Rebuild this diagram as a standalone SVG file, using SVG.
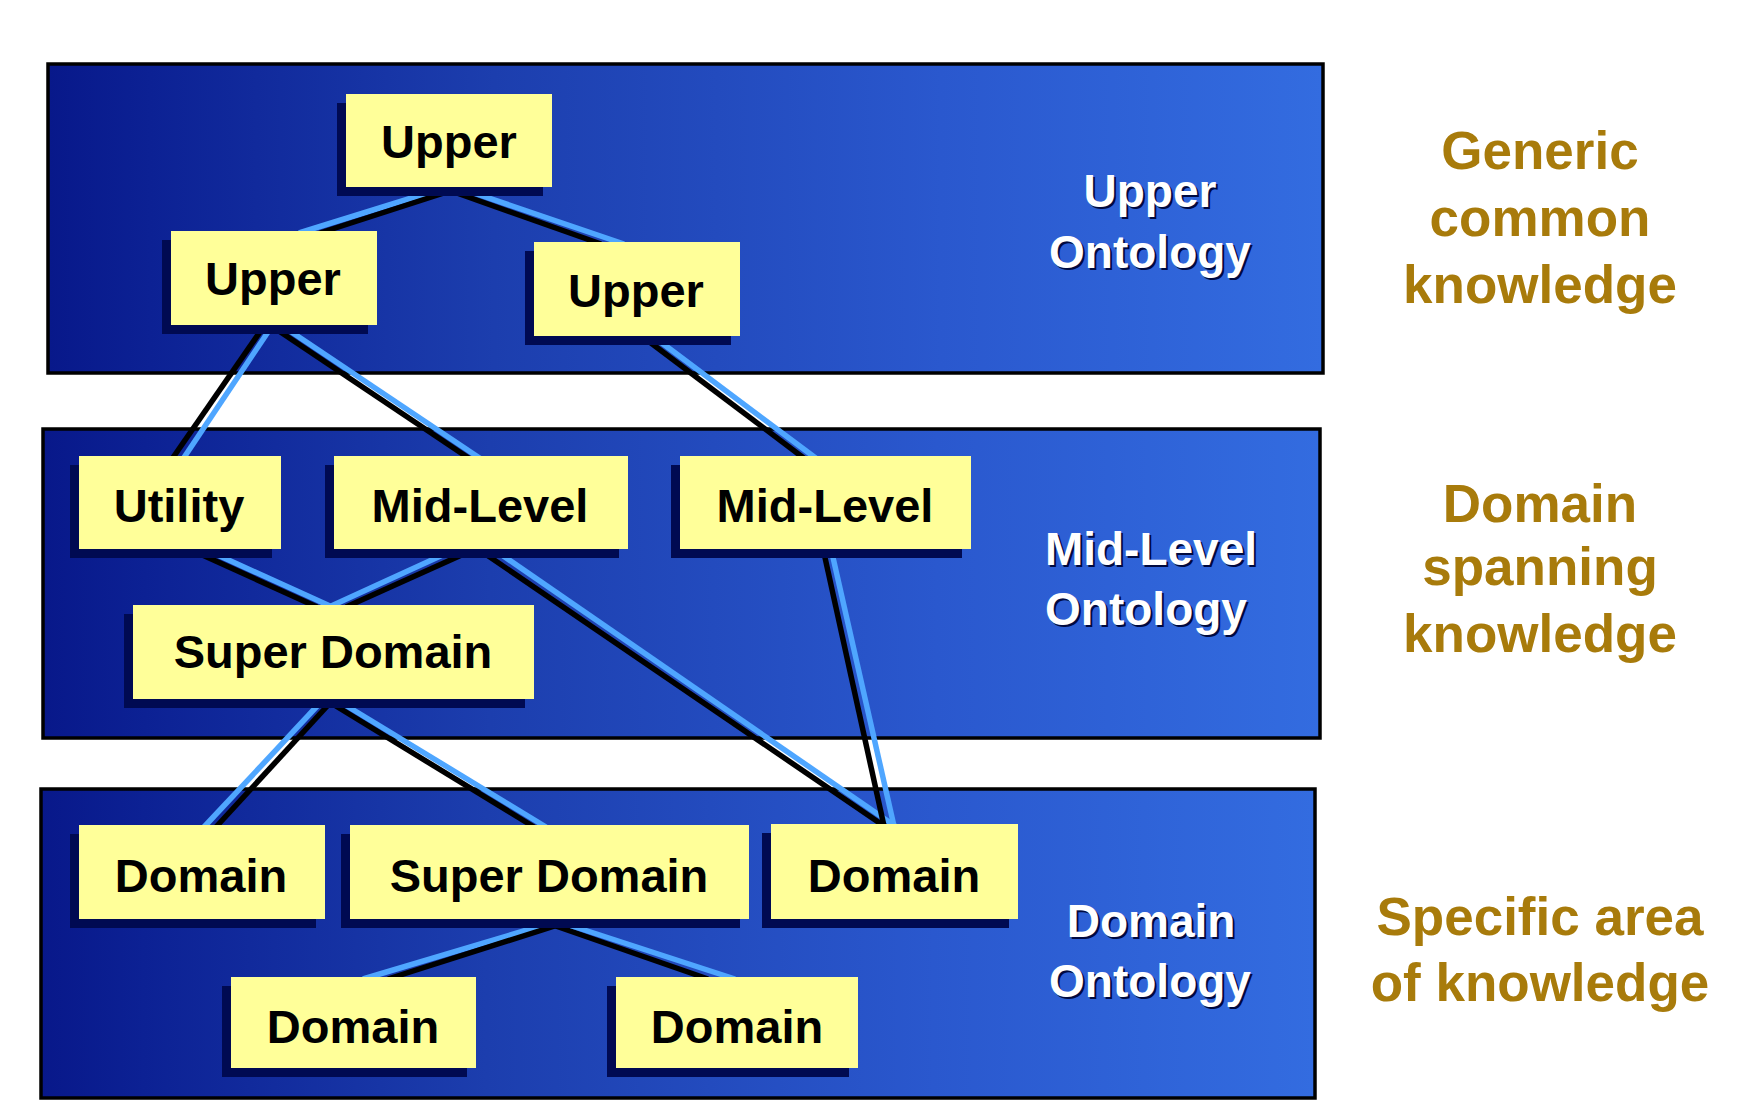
<svg xmlns="http://www.w3.org/2000/svg" width="1746" height="1106" viewBox="0 0 1746 1106">
  <defs>
    <linearGradient id="panelGrad" x1="0" y1="0" x2="1" y2="0">
      <stop offset="0" stop-color="#08188a"/>
      <stop offset="0.08" stop-color="#0c2194"/>
      <stop offset="0.35" stop-color="#1c3eae"/>
      <stop offset="0.7" stop-color="#2a58ce"/>
      <stop offset="1" stop-color="#336ce0"/>
    </linearGradient>
    <style>
      .panel { fill: url(#panelGrad); stroke: #000; stroke-width: 3.5; }
      .box { fill: #ffff99; }
      .shadow { fill: #000a52; }
      .ntext { font-family: "Liberation Sans", Arial, sans-serif; font-weight: bold; font-size: 47px; fill: #000; text-anchor: middle; }
      .otext { font-family: "Liberation Sans", Arial, sans-serif; font-weight: bold; font-size: 46px; fill: #fff; text-anchor: middle; }
      .oshadow { font-family: "Liberation Sans", Arial, sans-serif; font-weight: bold; font-size: 46px; fill: #000a40; text-anchor: middle; }
      .gtext { font-family: "Liberation Sans", Arial, sans-serif; font-weight: bold; font-size: 53px; fill: #a87b0b; text-anchor: middle; }
      .cb { stroke: #000; stroke-width: 5.5; fill: none; stroke-linecap: butt; }
      .cl { stroke: #4fa6ff; stroke-width: 5.5; fill: none; stroke-linecap: butt; }
    </style>
  </defs>

  <rect width="1746" height="1106" fill="#ffffff"/>

  <g id="panels">
    <rect id="panel-upper" class="panel" x="48" y="64" width="1275" height="309"/>
    <rect id="panel-mid" class="panel" x="43" y="429" width="1277" height="309"/>
    <rect id="panel-domain" class="panel" x="41" y="789" width="1274" height="309"/>
  </g>

  <g id="connectors">
    <!-- Upper top -> Upper left -->
    <line class="cl" x1="431" y1="192" x2="299" y2="233"/>
    <line class="cb" x1="447" y1="192" x2="320" y2="233"/>
    <!-- Upper top -> Upper right -->
    <line class="cb" x1="454" y1="192" x2="601" y2="244"/>
    <line class="cl" x1="471" y1="192" x2="624" y2="244"/>
    <!-- Upper left -> Utility -->
    <line class="cb" x1="262" y1="329" x2="172" y2="459"/>
    <line class="cl" x1="270" y1="329" x2="183" y2="459"/>
    <!-- Upper left -> Mid-Level 1 -->
    <line class="cb" x1="276" y1="329" x2="470" y2="459"/>
    <line class="cl" x1="287" y1="329" x2="481" y2="459"/>
    <!-- Upper right -> Mid-Level 2 -->
    <line class="cb" x1="647" y1="340" x2="805" y2="459"/>
    <line class="cl" x1="658" y1="340" x2="817" y2="459"/>
    <!-- Utility -> Super Domain -->
    <line class="cb" x1="198" y1="553" x2="317" y2="607"/>
    <line class="cl" x1="211" y1="552" x2="330" y2="606"/>
    <!-- Mid-Level 1 -> Super Domain -->
    <line class="cl" x1="447" y1="553" x2="329" y2="607"/>
    <line class="cb" x1="466" y1="553" x2="346" y2="607"/>
    <!-- Mid-Level 1 -> Domain (right) -->
    <line class="cb" x1="484" y1="553" x2="884" y2="826"/>
    <line class="cl" x1="499" y1="553" x2="895" y2="826"/>
    <!-- Mid-Level 2 -> Domain (right) -->
    <line class="cb" x1="824" y1="553" x2="884" y2="826"/>
    <line class="cl" x1="832" y1="553" x2="894" y2="826"/>
    <!-- Super Domain (mid) -> Domain (left) -->
    <line class="cl" x1="320" y1="703" x2="204" y2="827"/>
    <line class="cb" x1="330" y1="703" x2="216" y2="827"/>
    <!-- Super Domain (mid) -> Super Domain (bottom) -->
    <line class="cb" x1="331" y1="703" x2="534" y2="827"/>
    <line class="cl" x1="342" y1="703" x2="546" y2="827"/>
    <!-- Super Domain (bottom) -> Domain (bottom left) -->
    <line class="cl" x1="547" y1="924" x2="363" y2="979"/>
    <line class="cb" x1="561" y1="924" x2="388" y2="979"/>
    <!-- Super Domain (bottom) -> Domain (bottom right) -->
    <line class="cb" x1="550" y1="924" x2="708" y2="979"/>
    <line class="cl" x1="566" y1="924" x2="735" y2="979"/>
  </g>

  <g id="node-upper-top">
    <rect class="shadow" x="337" y="103" width="206" height="93"/>
    <rect class="box" x="346" y="94" width="206" height="93"/>
    <text class="ntext" x="449" y="158">Upper</text>
  </g>
  <g id="node-upper-left">
    <rect class="shadow" x="162" y="240" width="206" height="94"/>
    <rect class="box" x="171" y="231" width="206" height="94"/>
    <text class="ntext" x="273" y="295">Upper</text>
  </g>
  <g id="node-upper-right">
    <rect class="shadow" x="525" y="251" width="206" height="94"/>
    <rect class="box" x="534" y="242" width="206" height="94"/>
    <text class="ntext" x="636" y="307">Upper</text>
  </g>

  <g id="node-utility">
    <rect class="shadow" x="70" y="465" width="202" height="93"/>
    <rect class="box" x="79" y="456" width="202" height="93"/>
    <text class="ntext" x="179" y="522">Utility</text>
  </g>
  <g id="node-midlevel-1">
    <rect class="shadow" x="325" y="465" width="294" height="93"/>
    <rect class="box" x="334" y="456" width="294" height="93"/>
    <text class="ntext" x="480" y="522">Mid-Level</text>
  </g>
  <g id="node-midlevel-2">
    <rect class="shadow" x="671" y="465" width="291" height="93"/>
    <rect class="box" x="680" y="456" width="291" height="93"/>
    <text class="ntext" x="825" y="522">Mid-Level</text>
  </g>
  <g id="node-superdomain-mid">
    <rect class="shadow" x="124" y="614" width="401" height="94"/>
    <rect class="box" x="133" y="605" width="401" height="94"/>
    <text class="ntext" x="333" y="668">Super Domain</text>
  </g>

  <g id="node-domain-1">
    <rect class="shadow" x="70" y="834" width="246" height="94"/>
    <rect class="box" x="79" y="825" width="246" height="94"/>
    <text class="ntext" x="201" y="892">Domain</text>
  </g>
  <g id="node-superdomain-bottom">
    <rect class="shadow" x="341" y="834" width="399" height="94"/>
    <rect class="box" x="350" y="825" width="399" height="94"/>
    <text class="ntext" x="549" y="892">Super Domain</text>
  </g>
  <g id="node-domain-3">
    <rect class="shadow" x="762" y="833" width="247" height="95"/>
    <rect class="box" x="771" y="824" width="247" height="95"/>
    <text class="ntext" x="894" y="892">Domain</text>
  </g>
  <g id="node-domain-4">
    <rect class="shadow" x="222" y="986" width="245" height="91"/>
    <rect class="box" x="231" y="977" width="245" height="91"/>
    <text class="ntext" x="353" y="1043">Domain</text>
  </g>
  <g id="node-domain-5">
    <rect class="shadow" x="607" y="986" width="242" height="91"/>
    <rect class="box" x="616" y="977" width="242" height="91"/>
    <text class="ntext" x="737" y="1043">Domain</text>
  </g>

  <g id="layer-labels">
    <text class="oshadow" x="1152" y="209">Upper</text>
    <text class="otext" x="1150" y="207">Upper</text>
    <text class="oshadow" x="1152" y="270">Ontology</text>
    <text class="otext" x="1150" y="268">Ontology</text>

    <text class="oshadow" x="1153" y="567">Mid-Level</text>
    <text class="otext" x="1151" y="565">Mid-Level</text>
    <text class="oshadow" x="1148" y="627">Ontology</text>
    <text class="otext" x="1146" y="625">Ontology</text>

    <text class="oshadow" x="1153" y="939">Domain</text>
    <text class="otext" x="1151" y="937">Domain</text>
    <text class="oshadow" x="1152" y="999">Ontology</text>
    <text class="otext" x="1150" y="997">Ontology</text>
  </g>

  <g id="side-labels">
    <text class="gtext" x="1540" y="169">Generic</text>
    <text class="gtext" x="1540" y="236">common</text>
    <text class="gtext" x="1540" y="303">knowledge</text>

    <text class="gtext" x="1540" y="522">Domain</text>
    <text class="gtext" x="1540" y="585">spanning</text>
    <text class="gtext" x="1540" y="652">knowledge</text>

    <text class="gtext" x="1540" y="935">Specific area</text>
    <text class="gtext" x="1540" y="1001">of knowledge</text>
  </g>
</svg>
